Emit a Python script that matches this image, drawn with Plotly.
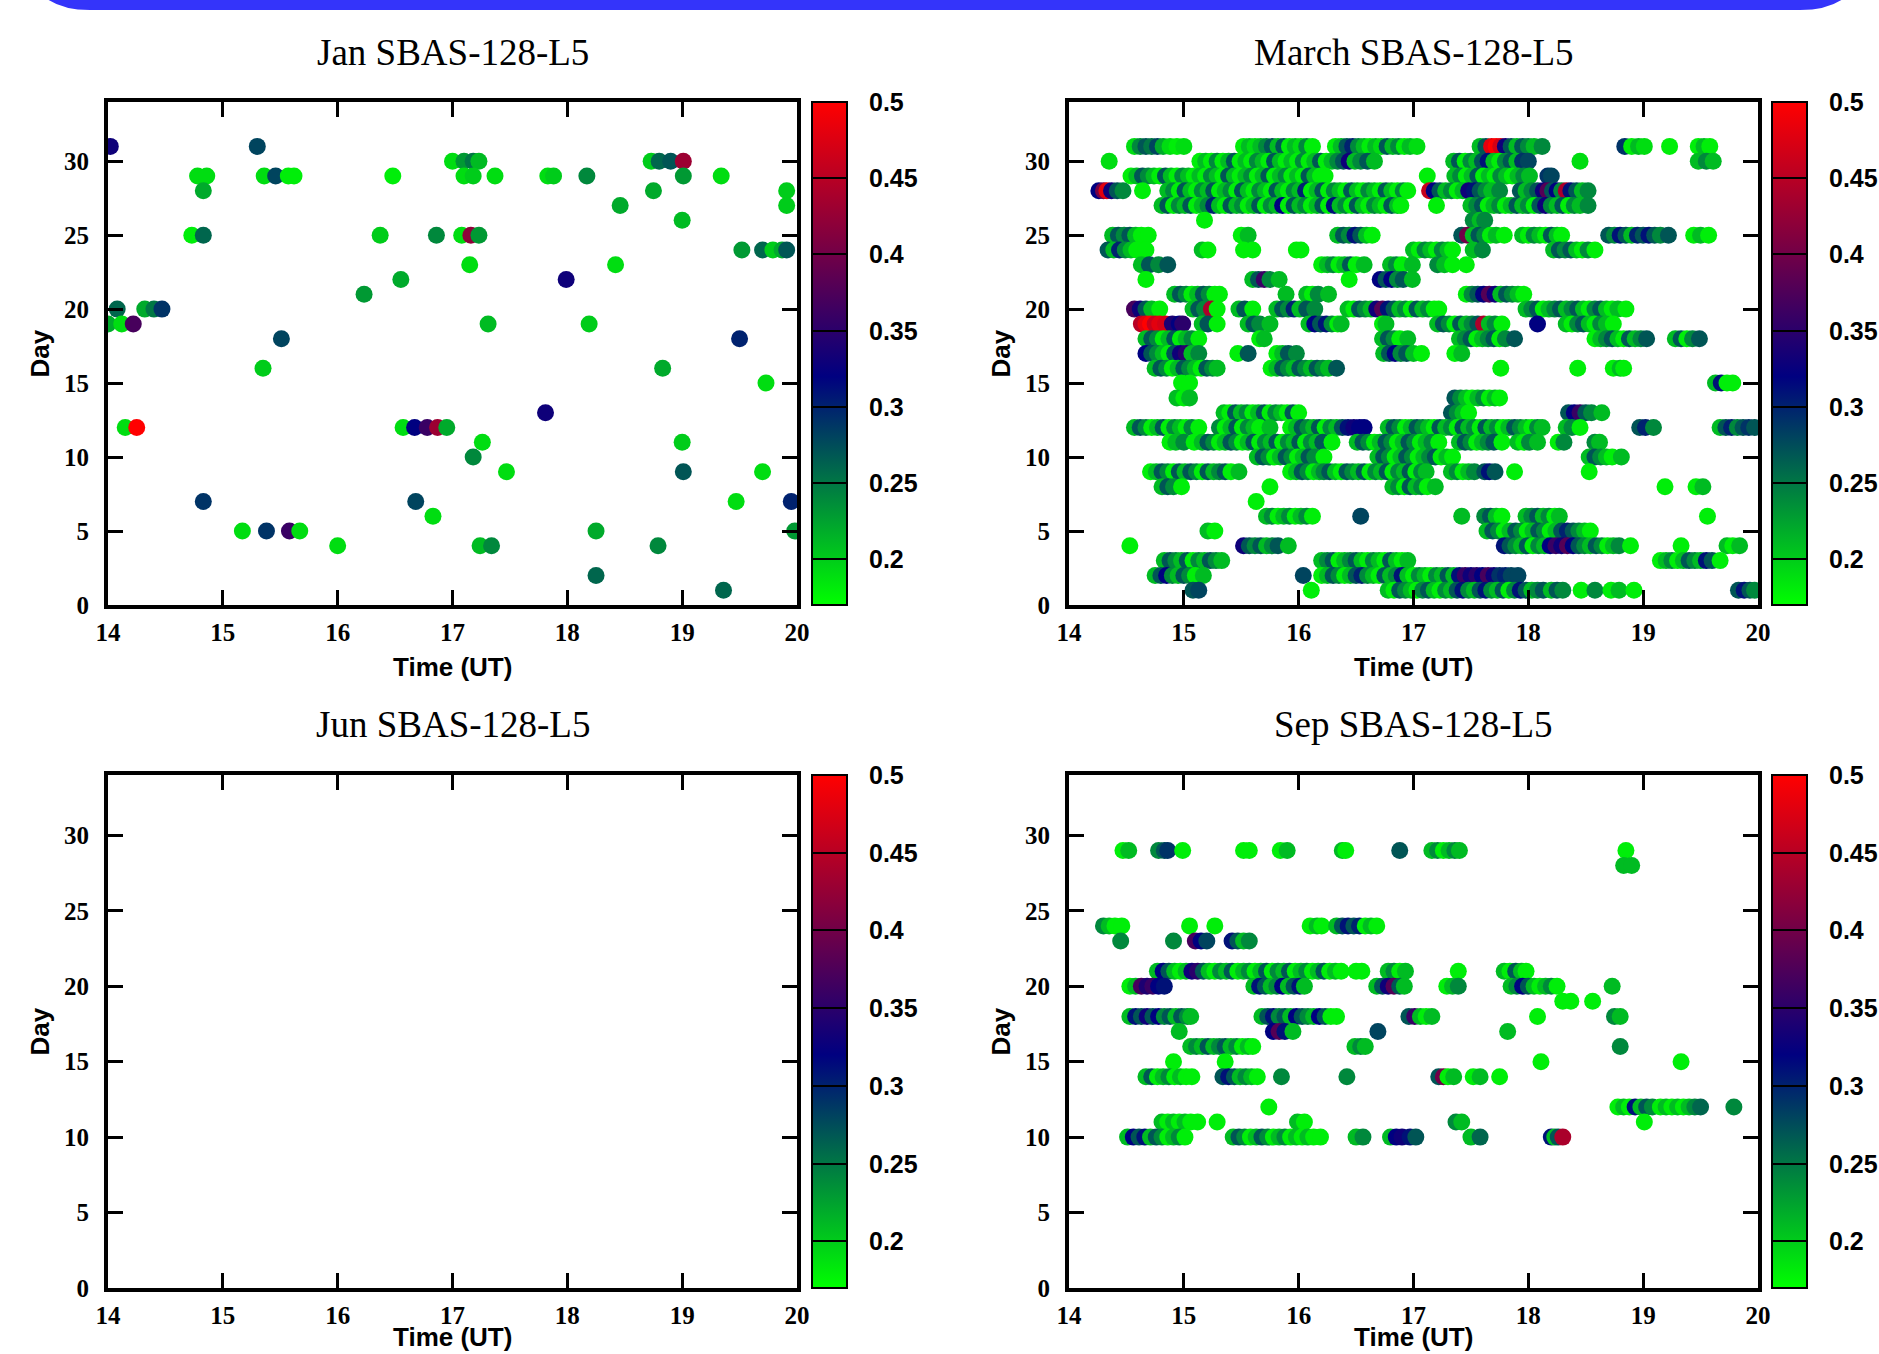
import plotly.graph_objects as go

W, H = 1879, 1354

# ---------------- colour scale (S4 index) ----------------
cb_min, cb_max = 0.17, 0.5
cb_ticks = [0.2, 0.25, 0.3, 0.35, 0.4, 0.45, 0.5]
cb_ticktext = ["0.2", "0.25", "0.3", "0.35", "0.4", "0.45", "0.5"]
x_ticks = [14, 15, 16, 17, 18, 19, 20]
y_ticks = [0, 5, 10, 15, 20, 25, 30]
titles = ["Jan SBAS-128-L5", "March SBAS-128-L5", "Jun SBAS-128-L5", "Sep SBAS-128-L5"]

# ---------------- January: (time UT, S4) per day ----------------
jan_days = [31, 30, 29, 28, 27, 26, 25, 24, 23, 22, 21, 20, 19, 18, 16, 15, 13, 12, 11, 10, 9, 7, 6, 5, 4, 2, 1]
jan_d31 = [(14.02, .33), (15.30, .28)]
jan_d30 = [(17.00, .19), (17.10, .23), (17.18, .25), (17.23, .21), (18.73, .20), (18.80, .26), (18.90, .27), (19.01, .43)]
jan_d29 = [(14.78, .19), (14.86, .19), (15.36, .19), (15.46, .28), (15.57, .18), (15.62, .18), (16.48, .18), (17.10, .19),
           (17.18, .20), (17.37, .19), (17.83, .19), (17.88, .20), (18.17, .24), (19.01, .23), (19.34, .19)]
jan_d28 = [(14.83, .22), (18.75, .22), (19.91, .20)]
jan_d27 = [(18.46, .22), (19.91, .20)]
jan_d26 = [(19.00, .21)]
jan_d25 = [(14.73, .18), (14.83, .26), (16.37, .20), (16.86, .24), (17.08, .19), (17.16, .42), (17.23, .23)]
jan_d24 = [(19.52, .23), (19.70, .26), (19.79, .20), (19.87, .22), (19.91, .27)]
jan_d23 = [(17.15, .19), (18.42, .19)]
jan_d22 = [(16.55, .22), (17.99, .33)]
jan_d21 = [(16.23, .23)]
jan_d20 = [(14.08, .26), (14.32, .22), (14.40, .25), (14.47, .29)]
jan_d19 = [(14.00, .22), (14.12, .19), (14.22, .37), (17.31, .21), (18.19, .20)]
jan_d18 = [(15.51, .28), (19.50, .30)]
jan_d16 = [(15.35, .20), (18.83, .22)]
jan_d15 = [(19.73, .19)]
jan_d13 = [(17.81, .33)]
jan_d12 = [(14.15, .19), (14.25, .50), (16.57, .19), (16.67, .32), (16.78, .36), (16.87, .43), (16.95, .22)]
jan_d11 = [(17.26, .19), (19.00, .20)]
jan_d10 = [(17.18, .24)]
jan_d9 = [(17.47, .19), (19.01, .27), (19.70, .19)]
jan_d7 = [(14.83, .29), (16.68, .28), (19.47, .19), (19.95, .30)]
jan_d6 = [(16.83, .19)]
jan_d5 = [(15.17, .19), (15.38, .29), (15.58, .36), (15.67, .19), (18.25, .22), (19.98, .23)]
jan_d4 = [(16.00, .19), (17.24, .21), (17.34, .24), (18.79, .24)]
jan_d2 = [(18.25, .26)]
jan_d1 = [(19.36, .26)]
jan_rows = [jan_d31, jan_d30, jan_d29, jan_d28, jan_d27, jan_d26, jan_d25, jan_d24, jan_d23, jan_d22, jan_d21,
            jan_d20, jan_d19, jan_d18, jan_d16, jan_d15, jan_d13, jan_d12, jan_d11, jan_d10, jan_d9, jan_d7,
            jan_d6, jan_d5, jan_d4, jan_d2, jan_d1]

# ---------------- March ----------------
mar_days = list(range(31, 0, -1))
mar_d31 = [(14.57, .19), (14.62, .24), (14.67, .27), (14.72, .25), (14.77, .28), (14.82, .22), (14.88, .19), (14.94, .18), (15.00, .19),
           (15.52, .18), (15.57, .21), (15.62, .19), (15.67, .21), (15.72, .24), (15.77, .27), (15.82, .21), (15.87, .27), (15.92, .18),
           (15.97, .21), (16.02, .19), (16.07, .24), (16.12, .18),
           (16.32, .18), (16.37, .21), (16.42, .27), (16.47, .30), (16.52, .24), (16.57, .21), (16.62, .18), (16.67, .21), (16.72, .19),
           (16.77, .27), (16.82, .21), (16.87, .24), (16.92, .18), (16.97, .21), (17.03, .19),
           (17.58, .21), (17.63, .27), (17.68, .48), (17.72, .50), (17.76, .47), (17.80, .33), (17.85, .27), (17.90, .21), (17.95, .27),
           (18.00, .24), (18.05, .21), (18.12, .24),
           (18.84, .29), (18.90, .18), (18.96, .21), (19.01, .19), (19.23, .18), (19.48, .18), (19.53, .21), (19.58, .18)]
mar_d30 = [(14.35, .19),
           (15.14, .18), (15.19, .21), (15.24, .18), (15.29, .24), (15.34, .18), (15.39, .21), (15.44, .27), (15.49, .18), (15.54, .21),
           (15.59, .18), (15.64, .24), (15.69, .21), (15.74, .18), (15.79, .27), (15.84, .21), (15.89, .18), (15.94, .21), (15.99, .18),
           (16.04, .24), (16.09, .18), (16.14, .21), (16.19, .27), (16.24, .18), (16.29, .21), (16.34, .24), (16.39, .27), (16.44, .33),
           (16.49, .21), (16.54, .24), (16.60, .27), (16.66, .21),
           (17.35, .21), (17.40, .27), (17.45, .18), (17.50, .24), (17.55, .21), (17.60, .27), (17.65, .31), (17.70, .21), (17.75, .18),
           (17.80, .24), (17.85, .27), (17.90, .21), (17.95, .29), (18.00, .28),
           (18.45, .19), (19.48, .21), (19.55, .24), (19.61, .21)]
mar_d29 = [(14.54, .18), (14.59, .21), (14.64, .27), (14.69, .24), (14.74, .21), (14.79, .18), (14.84, .27), (14.89, .21), (14.94, .18),
           (14.99, .24), (15.04, .21), (15.09, .18), (15.14, .21), (15.19, .18), (15.24, .24), (15.29, .21), (15.34, .18), (15.39, .27),
           (15.44, .21), (15.49, .18), (15.54, .21), (15.59, .24), (15.64, .18), (15.69, .21), (15.74, .27), (15.79, .18), (15.84, .21),
           (15.89, .24), (15.94, .18), (15.99, .21), (16.04, .18), (16.09, .27), (16.14, .21), (16.19, .18), (16.23, .18),
           (17.12, .18),
           (17.36, .21), (17.41, .24), (17.46, .18), (17.51, .21), (17.56, .27), (17.61, .18), (17.66, .21), (17.71, .18), (17.76, .24),
           (17.81, .21), (17.86, .18), (17.91, .21), (17.96, .24), (18.01, .21), (18.17, .29), (18.20, .28)]
mar_d28 = [(14.26, .32), (14.30, .40), (14.33, .48), (14.37, .33), (14.42, .27), (14.47, .24), (14.64, .18),
           (14.86, .21), (14.91, .24), (14.96, .18), (15.01, .27), (15.06, .21), (15.11, .18), (15.16, .24), (15.21, .21), (15.26, .27),
           (15.31, .18), (15.36, .21), (15.41, .24), (15.46, .18), (15.51, .27), (15.56, .21), (15.61, .18), (15.66, .24), (15.71, .21),
           (15.76, .18), (15.81, .27), (15.86, .21), (15.91, .18), (15.96, .24), (16.01, .21), (16.06, .30), (16.11, .18), (16.16, .21),
           (16.21, .27), (16.26, .18), (16.31, .24), (16.36, .21), (16.41, .18), (16.46, .27), (16.51, .21), (16.56, .18), (16.61, .24),
           (16.66, .21), (16.71, .18), (16.76, .27), (16.81, .21), (16.86, .18), (16.91, .24), (16.95, .18),
           (17.14, .46), (17.18, .32), (17.23, .27), (17.28, .21), (17.33, .24), (17.38, .18), (17.43, .21), (17.48, .33), (17.53, .31),
           (17.58, .27), (17.63, .24), (17.68, .21), (17.75, .24),
           (17.93, .27), (17.98, .21), (18.03, .24), (18.08, .27), (18.13, .33), (18.17, .38), (18.21, .27), (18.25, .32), (18.29, .24),
           (18.33, .44), (18.37, .31), (18.42, .27), (18.47, .21), (18.52, .24)]
mar_d27 = [(14.81, .21), (14.86, .27), (14.91, .18), (14.96, .24), (15.01, .21), (15.06, .27), (15.11, .18), (15.16, .21), (15.21, .24),
           (15.26, .30), (15.31, .21), (15.36, .18), (15.41, .27), (15.46, .21), (15.51, .24), (15.56, .18), (15.61, .21), (15.66, .27),
           (15.71, .18), (15.76, .24), (15.81, .21), (15.86, .32), (15.91, .18), (15.96, .27), (16.01, .21), (16.06, .24), (16.11, .18),
           (16.16, .21), (16.21, .27), (16.26, .18), (16.31, .31), (16.36, .21), (16.41, .24), (16.46, .18), (16.51, .27), (16.56, .21),
           (16.61, .18), (16.66, .24), (16.71, .21), (16.76, .18), (16.81, .27), (16.86, .21), (16.89, .18),
           (17.20, .18),
           (17.50, .21), (17.55, .24), (17.60, .27), (17.65, .18), (17.70, .21), (17.75, .24), (17.80, .18), (17.85, .21), (17.90, .27),
           (17.95, .21), (18.00, .24), (18.05, .18), (18.10, .27), (18.15, .33), (18.20, .24), (18.25, .21), (18.30, .27), (18.35, .18),
           (18.40, .24), (18.45, .21), (18.52, .24)]
mar_d26 = [(15.18, .18), (17.52, .24), (17.58, .21), (17.62, .24)]
mar_d25 = [(14.38, .21), (14.43, .27), (14.48, .24), (14.53, .27), (14.58, .21), (14.63, .18), (14.69, .18),
           (15.50, .18), (15.56, .21),
           (16.34, .21), (16.39, .27), (16.44, .24), (16.49, .31), (16.54, .27), (16.59, .21), (16.64, .18),
           (17.42, .27), (17.47, .40), (17.52, .21), (17.57, .27), (17.62, .24), (17.67, .18), (17.72, .21), (17.79, .18),
           (17.95, .21), (18.00, .18), (18.05, .24), (18.10, .21), (18.15, .18), (18.20, .27), (18.25, .21), (18.29, .18),
           (18.70, .27), (18.75, .24), (18.80, .31), (18.85, .27), (18.90, .21), (18.95, .30), (19.00, .27), (19.05, .31), (19.10, .27),
           (19.15, .24), (19.22, .27), (19.44, .18), (19.50, .21), (19.57, .18)]
mar_d24 = [(14.34, .27), (14.39, .21), (14.44, .30), (14.49, .24), (14.54, .21), (14.59, .18), (14.67, .18),
           (15.16, .21), (15.21, .18), (15.52, .18), (15.60, .18), (15.98, .18), (16.02, .18),
           (17.00, .21), (17.05, .18), (17.10, .24), (17.15, .21), (17.20, .18), (17.25, .24), (17.30, .21), (17.34, .18),
           (17.52, .21), (17.60, .24),
           (18.22, .21), (18.27, .27), (18.32, .24), (18.37, .27), (18.42, .21), (18.47, .18), (18.52, .24), (18.58, .18)]
mar_d23 = [(14.63, .21), (14.70, .27), (14.78, .24), (14.86, .27),
           (16.20, .18), (16.25, .21), (16.30, .24), (16.35, .18), (16.40, .21), (16.45, .27), (16.50, .18), (16.57, .21),
           (16.80, .21), (16.85, .24), (16.90, .18), (16.99, .21), (17.21, .24), (17.27, .21), (17.34, .18), (17.46, .18)]
mar_d22 = [(14.67, .18), (15.60, .21), (15.65, .27), (15.70, .36), (15.75, .24), (15.83, .21), (16.44, .18),
           (16.71, .32), (16.76, .27), (16.81, .32), (16.86, .24), (16.91, .27), (16.99, .21)]
mar_d21 = [(14.92, .21), (14.97, .27), (15.02, .24), (15.07, .18), (15.12, .21), (15.17, .27), (15.22, .24), (15.27, .18), (15.31, .18),
           (15.89, .21), (16.07, .21), (16.12, .18), (16.17, .24), (16.26, .21),
           (17.46, .18), (17.51, .24), (17.56, .27), (17.61, .32), (17.66, .38), (17.71, .33), (17.76, .21), (17.81, .27), (17.86, .24),
           (17.91, .21), (17.96, .18)]
mar_d20 = [(14.57, .37), (14.62, .33), (14.67, .27), (14.72, .21), (14.79, .18),
           (15.08, .21), (15.13, .27), (15.18, .24), (15.24, .44), (15.29, .18), (15.48, .21), (15.53, .27), (15.60, .18),
           (15.81, .21), (15.86, .27), (15.91, .24), (15.96, .30), (16.01, .21), (16.07, .27), (16.14, .24),
           (16.43, .21), (16.48, .18), (16.53, .27), (16.58, .24), (16.63, .21), (16.68, .33), (16.73, .38), (16.78, .31), (16.83, .27),
           (16.88, .21), (16.93, .24), (16.98, .18), (17.03, .27), (17.08, .21), (17.13, .24), (17.18, .18), (17.22, .18),
           (17.98, .21), (18.03, .24), (18.08, .27), (18.13, .18), (18.18, .21), (18.23, .24), (18.28, .27), (18.33, .21), (18.38, .24),
           (18.43, .27), (18.48, .21), (18.53, .18), (18.58, .24), (18.63, .27), (18.68, .21), (18.73, .18), (18.78, .21), (18.85, .18)]
mar_d19 = [(14.63, .45), (14.67, .48), (14.71, .50), (14.75, .46), (14.79, .48), (14.84, .47), (14.90, .34), (14.96, .32), (14.99, .35),
           (15.16, .21), (15.21, .27), (15.29, .18), (15.56, .21), (15.61, .27), (15.66, .24), (15.75, .21),
           (16.09, .21), (16.14, .32), (16.19, .27), (16.24, .31), (16.29, .24), (16.34, .18), (16.37, .21), (16.73, .18), (16.76, .21),
           (17.21, .21), (17.26, .27), (17.31, .24), (17.36, .18), (17.41, .27), (17.46, .21), (17.51, .24), (17.56, .27), (17.61, .44),
           (17.66, .21), (17.71, .24), (17.77, .18), (18.08, .32),
           (18.33, .21), (18.38, .18), (18.43, .24), (18.48, .27), (18.53, .21), (18.58, .18), (18.63, .24), (18.68, .21), (18.74, .18)]
mar_d18 = [(14.67, .21), (14.72, .27), (14.77, .24), (14.82, .18), (14.87, .21), (14.92, .27), (14.97, .18), (15.02, .21), (15.07, .24),
           (15.13, .18), (15.66, .18), (15.70, .21),
           (16.73, .21), (16.78, .27), (16.83, .24), (16.88, .18), (16.95, .21),
           (17.40, .21), (17.45, .24), (17.50, .27), (17.55, .18), (17.60, .21), (17.65, .24), (17.70, .27), (17.75, .18), (17.80, .24),
           (17.88, .27),
           (18.58, .18), (18.63, .21), (18.68, .24), (18.73, .27), (18.78, .21), (18.83, .18), (18.88, .27), (18.93, .21), (18.98, .24),
           (19.03, .27), (19.28, .21), (19.33, .27), (19.38, .18), (19.43, .24), (19.49, .27)]
mar_d17 = [(14.67, .32), (14.72, .27), (14.77, .24), (14.82, .21), (14.87, .18), (14.92, .27), (14.97, .33), (15.02, .35), (15.07, .21),
           (15.13, .24), (15.47, .18), (15.56, .27), (15.81, .18), (15.86, .21), (15.91, .27), (15.98, .24),
           (16.74, .21), (16.79, .27), (16.84, .32), (16.89, .24), (16.94, .27), (17.00, .21), (17.07, .18), (17.36, .18), (17.42, .21)]
mar_d16 = [(14.75, .21), (14.80, .27), (14.85, .24), (14.90, .18), (14.95, .21), (15.00, .27), (15.05, .24), (15.10, .21), (15.15, .18),
           (15.20, .27), (15.25, .24), (15.29, .21),
           (15.76, .18), (15.81, .21), (15.86, .27), (15.91, .24), (15.96, .21), (16.01, .27), (16.06, .24), (16.11, .21), (16.16, .27),
           (16.21, .24), (16.26, .21), (16.33, .27), (17.76, .18), (18.43, .18), (18.74, .18), (18.80, .21), (18.83, .18)]
mar_d15 = [(14.98, .18), (15.05, .18), (19.63, .21), (19.68, .31), (19.73, .18), (19.78, .18)]
mar_d14 = [(14.94, .21), (15.00, .18), (15.05, .21),
           (17.36, .27), (17.41, .24), (17.46, .21), (17.51, .18), (17.56, .21), (17.61, .24), (17.66, .18), (17.71, .21), (17.75, .18)]
mar_d13 = [(15.35, .21), (15.40, .18), (15.45, .27), (15.50, .21), (15.55, .24), (15.60, .18), (15.65, .21), (15.70, .27), (15.75, .18),
           (15.80, .24), (15.85, .21), (15.90, .18), (15.95, .27), (16.00, .18),
           (17.33, .27), (17.38, .24), (17.43, .21), (17.48, .18),
           (18.35, .27), (18.40, .32), (18.45, .36), (18.50, .27), (18.55, .24), (18.64, .21)]
mar_d12 = [(14.57, .21), (14.62, .27), (14.67, .24), (14.72, .18), (14.77, .21), (14.82, .27), (14.87, .18), (14.92, .24), (14.97, .21),
           (15.02, .18), (15.07, .24), (15.13, .18),
           (15.31, .24), (15.36, .18), (15.41, .21), (15.46, .27), (15.51, .18), (15.56, .24), (15.61, .21), (15.66, .18), (15.75, .21),
           (15.93, .18), (15.98, .21), (16.03, .27), (16.08, .24), (16.13, .21), (16.18, .27), (16.23, .18), (16.28, .24), (16.33, .21),
           (16.38, .27), (16.43, .31), (16.48, .33), (16.53, .32), (16.57, .32),
           (16.78, .21), (16.83, .27), (16.88, .24), (16.93, .18), (16.98, .21), (17.03, .27), (17.08, .24), (17.13, .21), (17.18, .18),
           (17.23, .27), (17.28, .21), (17.33, .24), (17.38, .18), (17.43, .27), (17.48, .21), (17.53, .24), (17.58, .18), (17.63, .27),
           (17.68, .21), (17.73, .24), (17.78, .18), (17.83, .21), (17.88, .27), (17.93, .24), (17.98, .21), (18.03, .18), (18.08, .24),
           (18.12, .21), (18.33, .21), (18.38, .24), (18.45, .18), (18.97, .27), (19.02, .30), (19.09, .24),
           (19.67, .21), (19.72, .27), (19.77, .30), (19.82, .24), (19.87, .27), (19.92, .29), (19.97, .27)]
mar_d11 = [(14.88, .18), (14.93, .21), (15.00, .24), (15.09, .18),
           (15.16, .21), (15.21, .27), (15.26, .24), (15.31, .18), (15.36, .21), (15.41, .27), (15.46, .24), (15.51, .18), (15.56, .21),
           (15.61, .27), (15.66, .18), (15.71, .24), (15.76, .21), (15.81, .27), (15.86, .18), (15.91, .24), (15.96, .21), (16.01, .27),
           (16.06, .18), (16.11, .24), (16.16, .21), (16.21, .27), (16.29, .18),
           (16.51, .21), (16.56, .27), (16.61, .24), (16.66, .18), (16.71, .21), (16.76, .27), (16.81, .24), (16.86, .18), (16.91, .21),
           (16.96, .27), (17.01, .24), (17.06, .18), (17.11, .21), (17.16, .24), (17.22, .18),
           (17.40, .21), (17.45, .27), (17.50, .24), (17.55, .18), (17.60, .21), (17.65, .24), (17.70, .27), (17.77, .18),
           (17.91, .21), (17.96, .18), (18.01, .24), (18.08, .21), (18.26, .18), (18.31, .24), (18.58, .24), (18.62, .21)]
mar_d10 = [(15.64, .21), (15.69, .27), (15.74, .24), (15.79, .18), (15.84, .21), (15.89, .27), (15.94, .24), (15.99, .18), (16.04, .21),
           (16.09, .27), (16.14, .24), (16.22, .18),
           (16.69, .21), (16.74, .27), (16.79, .24), (16.84, .18), (16.89, .21), (16.94, .27), (16.99, .24), (17.04, .18), (17.09, .21),
           (17.14, .24), (17.19, .27), (17.24, .18), (17.29, .21), (17.34, .18),
           (18.53, .21), (18.58, .27), (18.63, .24), (18.68, .21), (18.73, .18), (18.81, .21)]
mar_d9 = [(14.71, .18), (14.76, .21), (14.81, .27), (14.86, .24), (14.91, .18), (14.96, .27), (15.01, .21), (15.06, .27), (15.11, .24),
          (15.16, .18), (15.21, .27), (15.26, .21), (15.31, .24), (15.36, .27), (15.41, .18), (15.48, .21),
          (15.93, .18), (15.98, .21), (16.03, .27), (16.08, .24), (16.13, .18), (16.18, .21),
          (16.22, .24), (16.27, .27), (16.32, .21), (16.37, .18), (16.42, .27), (16.47, .24), (16.52, .21), (16.57, .27), (16.62, .18),
          (16.67, .24), (16.72, .21), (16.77, .27), (16.82, .18), (16.87, .24), (16.92, .21), (16.97, .27), (17.02, .18), (17.07, .24),
          (17.11, .21), (17.33, .21), (17.38, .24), (17.43, .18), (17.48, .21), (17.53, .24), (17.62, .27), (17.66, .31), (17.71, .27),
          (17.88, .18), (18.53, .18)]
mar_d8 = [(14.81, .21), (14.86, .27), (14.91, .24), (14.98, .18), (15.75, .18),
          (16.82, .21), (16.87, .24), (16.92, .18), (16.97, .27), (17.02, .21), (17.07, .24), (17.12, .18), (17.19, .21),
          (19.19, .18), (19.46, .18), (19.52, .21)]
mar_d7 = [(15.63, .18)]
mar_d6 = [(15.72, .21), (15.77, .24), (15.82, .18), (15.87, .21), (15.92, .24), (15.97, .18), (16.02, .21), (16.07, .24), (16.12, .18),
          (16.54, .28), (17.42, .21),
          (17.62, .24), (17.67, .27), (17.72, .21), (17.77, .18),
          (17.98, .21), (18.03, .24), (18.08, .27), (18.13, .21), (18.18, .24), (18.23, .18), (18.27, .21), (19.56, .18)]
mar_d5 = [(15.21, .21), (15.27, .18),
          (17.64, .21), (17.69, .27), (17.74, .24), (17.79, .18), (17.84, .21), (17.89, .27), (17.94, .24), (17.99, .18), (18.04, .21),
          (18.09, .27), (18.14, .24), (18.19, .18), (18.24, .21), (18.29, .27), (18.34, .30), (18.39, .27), (18.44, .24), (18.49, .21),
          (18.54, .18)]
mar_d4 = [(14.53, .18),
          (15.52, .33), (15.57, .27), (15.62, .24), (15.67, .27), (15.72, .21), (15.77, .24), (15.82, .27), (15.91, .21),
          (17.79, .31), (17.84, .27), (17.89, .24), (17.94, .21), (17.99, .27), (18.04, .18), (18.09, .24), (18.14, .21), (18.19, .32),
          (18.24, .36), (18.29, .33), (18.34, .38), (18.39, .32), (18.44, .27), (18.49, .24), (18.54, .21), (18.59, .27), (18.64, .24),
          (18.69, .18), (18.74, .21), (18.79, .24), (18.89, .18),
          (19.33, .18), (19.73, .21), (19.78, .18), (19.84, .21)]
mar_d3 = [(14.83, .21), (14.88, .27), (14.93, .24), (14.98, .21), (15.03, .27), (15.08, .18), (15.13, .24), (15.18, .21), (15.23, .27),
          (15.28, .24), (15.33, .21),
          (16.20, .21), (16.25, .24), (16.30, .27), (16.35, .18), (16.40, .21), (16.45, .24), (16.50, .27), (16.55, .21), (16.60, .18),
          (16.65, .24), (16.70, .21), (16.75, .18), (16.80, .27), (16.85, .21), (16.90, .18), (16.95, .21),
          (19.15, .18), (19.20, .21), (19.25, .24), (19.30, .18), (19.35, .21), (19.40, .27), (19.45, .24), (19.50, .21), (19.55, .31),
          (19.60, .27), (19.67, .18)]
mar_d2 = [(14.75, .21), (14.80, .27), (14.85, .32), (14.90, .24), (14.95, .21), (15.00, .27), (15.05, .24), (15.10, .18), (15.17, .21),
          (16.04, .28),
          (16.20, .18), (16.25, .21), (16.30, .27), (16.35, .24), (16.40, .18), (16.45, .21), (16.50, .27), (16.55, .30), (16.60, .24),
          (16.65, .21), (16.70, .18), (16.75, .27), (16.80, .21), (16.85, .24), (16.90, .31), (16.95, .21), (17.00, .18), (17.05, .24),
          (17.10, .21), (17.15, .18), (17.20, .24), (17.25, .21), (17.30, .27), (17.35, .21), (17.40, .31), (17.45, .36), (17.50, .33),
          (17.55, .35), (17.60, .32), (17.65, .37), (17.70, .33), (17.75, .29), (17.80, .30), (17.85, .28), (17.91, .28)]
mar_d1 = [(15.08, .27), (15.13, .28), (16.11, .18),
          (16.78, .21), (16.83, .18), (16.88, .27), (16.93, .24), (16.98, .21), (17.03, .18), (17.08, .24), (17.13, .27), (17.18, .21),
          (17.23, .18), (17.28, .24), (17.33, .21), (17.38, .27), (17.43, .31), (17.48, .24), (17.53, .21), (17.58, .27), (17.63, .31),
          (17.68, .24), (17.73, .21), (17.78, .27), (17.83, .18), (17.88, .24), (17.93, .31), (17.98, .27), (18.03, .21), (18.08, .24),
          (18.13, .27), (18.20, .21), (18.25, .27), (18.30, .24),
          (18.46, .18), (18.58, .24), (18.72, .18), (18.79, .21), (18.92, .18),
          (19.83, .27), (19.88, .31), (19.93, .27), (19.97, .24)]
mar_rows = [mar_d31, mar_d30, mar_d29, mar_d28, mar_d27, mar_d26, mar_d25, mar_d24, mar_d23, mar_d22, mar_d21,
            mar_d20, mar_d19, mar_d18, mar_d17, mar_d16, mar_d15, mar_d14, mar_d13, mar_d12, mar_d11, mar_d10,
            mar_d9, mar_d8, mar_d7, mar_d6, mar_d5, mar_d4, mar_d3, mar_d2, mar_d1]

# ---------------- June: no data ----------------
jun_time = []
jun_day = []
jun_s4 = []

# ---------------- September ----------------
sep_days = [29, 28, 24, 23, 21, 20, 19, 18, 17, 16, 15, 14, 12, 11, 10]
sep_d29 = [(14.47, .18), (14.52, .21), (14.78, .24), (14.83, .27), (14.86, .29), (14.99, .18), (15.52, .18), (15.57, .18),
           (15.84, .18), (15.90, .21), (16.38, .21), (16.41, .18), (16.88, .27),
           (17.16, .21), (17.21, .24), (17.26, .18), (17.31, .21), (17.36, .24), (17.40, .21), (18.85, .18)]
sep_d28 = [(18.83, .21), (18.90, .21)]
sep_d24 = [(14.30, .24), (14.35, .21), (14.40, .18), (14.46, .18), (15.05, .18), (15.27, .18), (16.10, .18), (16.16, .21), (16.20, .18),
           (16.33, .21), (16.38, .27), (16.43, .31), (16.48, .27), (16.53, .30), (16.58, .18), (16.63, .21), (16.68, .18)]
sep_d23 = [(14.45, .24), (14.91, .24), (15.10, .37), (15.15, .32), (15.20, .28), (15.42, .31), (15.47, .27), (15.52, .21), (15.57, .24)]
sep_d21 = [(14.77, .21), (14.82, .32), (14.87, .27), (14.92, .21), (14.97, .18), (15.02, .21), (15.07, .33), (15.12, .35), (15.17, .27),
           (15.22, .21), (15.27, .18), (15.32, .24), (15.37, .21), (15.42, .27), (15.47, .18), (15.52, .21), (15.57, .24), (15.62, .18),
           (15.67, .21), (15.72, .27), (15.77, .18), (15.82, .24), (15.87, .21), (15.92, .27), (15.97, .18), (16.02, .21), (16.07, .24),
           (16.12, .18), (16.17, .21), (16.22, .27), (16.27, .18), (16.32, .21), (16.37, .18), (16.50, .18), (16.55, .18),
           (16.78, .21), (16.83, .24), (16.88, .18), (16.93, .21), (17.39, .18),
           (17.79, .21), (17.84, .18), (17.89, .27), (17.94, .21), (17.98, .18)]
sep_d20 = [(14.53, .18), (14.58, .21), (14.63, .37), (14.68, .34), (14.73, .36), (14.78, .32), (14.83, .31),
           (15.61, .21), (15.66, .31), (15.71, .27), (15.76, .21), (15.81, .24), (15.86, .32), (15.91, .21), (15.96, .27), (16.01, .31),
           (16.05, .21), (16.68, .21), (16.73, .27), (16.78, .33), (16.83, .38), (16.88, .27), (16.92, .21),
           (17.29, .18), (17.34, .21), (17.39, .24),
           (17.85, .21), (17.90, .24), (17.95, .32), (18.00, .27), (18.05, .21), (18.10, .18), (18.15, .21), (18.20, .24), (18.25, .18),
           (18.73, .21)]
sep_d19 = [(18.30, .18), (18.37, .18), (18.56, .18)]
sep_d18 = [(14.53, .21), (14.58, .31), (14.63, .27), (14.68, .33), (14.73, .27), (14.78, .32), (14.83, .24), (14.88, .27), (14.93, .21),
           (14.98, .27), (15.03, .24), (15.06, .21),
           (15.68, .21), (15.73, .27), (15.78, .31), (15.83, .24), (15.88, .27), (15.93, .21), (15.98, .32), (16.03, .27), (16.08, .24),
           (16.13, .21), (16.18, .32), (16.23, .27), (16.28, .18), (16.33, .18),
           (16.96, .27), (17.01, .36), (17.06, .21), (17.11, .18), (17.16, .21), (18.08, .18), (18.75, .24), (18.80, .21)]
sep_d17 = [(14.96, .21), (15.78, .32), (15.83, .38), (15.88, .31), (15.95, .21), (16.69, .28), (17.82, .21)]
sep_d16 = [(15.06, .21), (15.11, .24), (15.16, .21), (15.21, .27), (15.26, .21), (15.31, .24), (15.36, .27), (15.41, .21), (15.46, .24),
           (15.51, .18), (15.56, .21), (15.60, .18), (16.49, .21), (16.54, .24), (16.58, .21), (18.80, .24)]
sep_d15 = [(14.91, .18), (15.36, .18), (18.11, .18), (19.33, .18)]
sep_d14 = [(14.67, .21), (14.72, .27), (14.77, .18), (14.82, .21), (14.87, .24), (14.92, .18), (14.97, .21), (15.02, .18), (15.07, .18),
           (15.34, .27), (15.39, .31), (15.44, .27), (15.49, .21), (15.54, .24), (15.59, .21), (15.64, .18), (15.85, .24), (16.42, .24),
           (17.22, .27), (17.26, .40), (17.30, .18), (17.35, .21), (17.52, .18), (17.58, .21), (17.75, .18)]
sep_d12 = [(15.74, .18), (18.78, .18), (18.83, .21), (18.88, .18), (18.93, .31), (18.98, .21), (19.03, .27), (19.08, .24), (19.15, .18),
           (19.20, .21), (19.25, .18), (19.30, .21), (19.35, .18), (19.40, .21), (19.45, .24), (19.50, .26), (19.79, .24)]
sep_d11 = [(14.81, .21), (14.86, .18), (14.91, .21), (14.96, .18), (15.01, .21), (15.06, .18), (15.12, .18), (15.29, .18),
           (15.99, .21), (16.05, .18), (17.37, .24), (17.42, .21), (19.01, .18)]
sep_d10 = [(14.51, .21), (14.56, .32), (14.61, .27), (14.66, .31), (14.71, .21), (14.76, .27), (14.81, .24), (14.86, .18), (14.91, .21),
           (14.96, .24), (15.01, .18),
           (15.43, .21), (15.48, .27), (15.53, .24), (15.58, .18), (15.63, .21), (15.68, .27), (15.73, .24), (15.78, .18), (15.83, .21),
           (15.88, .24), (15.93, .18), (15.98, .21), (16.03, .18), (16.08, .21), (16.13, .18), (16.19, .18), (16.50, .21), (16.56, .24),
           (16.80, .21), (16.85, .32), (16.90, .33), (16.97, .31), (17.02, .27), (17.50, .21), (17.58, .26),
           (18.20, .31), (18.23, .21), (18.26, .27), (18.30, .44)]
sep_rows = [sep_d29, sep_d28, sep_d24, sep_d23, sep_d21, sep_d20, sep_d19, sep_d18, sep_d17, sep_d16, sep_d15, sep_d14,
            sep_d12, sep_d11, sep_d10]


def flatten(days, rows):
    t, d, s = [], [], []
    for day, row in zip(days, rows):
        for time, s4 in row:
            t.append(time)
            d.append(day)
            s.append(s4)
    return t, d, s


jan_time, jan_day, jan_s4 = flatten(jan_days, jan_rows)
mar_time, mar_day, mar_s4 = flatten(mar_days, mar_rows)
sep_time, sep_day, sep_s4 = flatten(sep_days, sep_rows)

# ---------------- layout geometry (pixels -> paper) ----------------
def px(x):
    return x / W


def py(y):
    return 1 - y / H


panels = [
    dict(x0=108, x1=797, y0=102, y1=605, cbx=812, title_y=52, xt_y=667),
    dict(x0=1069, x1=1758, y0=102, y1=605, cbx=1772, title_y=52, xt_y=667),
    dict(x0=108, x1=797, y0=775, y1=1288, cbx=812, title_y=724, xt_y=1337),
    dict(x0=1069, x1=1758, y0=775, y1=1288, cbx=1772, title_y=724, xt_y=1337),
]
data = [(jan_time, jan_day, jan_s4), (mar_time, mar_day, mar_s4), (jun_time, jun_day, jun_s4), (sep_time, sep_day, sep_s4)]

colorscale = [[0.0, "#00ff00"], [(0.32 - cb_min) / (cb_max - cb_min), "#000080"], [1.0, "#ff0000"]]

fig = go.Figure()
layout = dict(
    width=W, height=H, margin=dict(l=0, r=0, t=0, b=0, autoexpand=False),
    paper_bgcolor="white", plot_bgcolor="white", showlegend=False,
    annotations=[], shapes=[],
)

tick_font = dict(family="Liberation Serif", size=25, color="black", weight="bold")
sans_bold = dict(family="Liberation Sans", size=26, color="black", weight="bold")
cb_font = dict(family="Liberation Sans", size=25, color="black", weight="bold")

for i, (p, (t, d, s)) in enumerate(zip(panels, data)):
    n = "" if i == 0 else str(i + 1)
    ca = "coloraxis" + n
    # an empty month keeps an undrawn placeholder (no coordinates) so its colour bar still shows
    tx, dy, sc = (t, d, s) if len(t) else ([None], [None], [cb_min])
    fig.add_trace(go.Scatter(
        x=tx, y=dy, mode="markers", xaxis="x" + n, yaxis="y" + n,
        marker=dict(size=17, color=sc, coloraxis=ca, line=dict(width=0)),
        hoverinfo="skip",
    ))
    axis_common = dict(showline=True, linewidth=4, linecolor="black", mirror="ticks", ticks="inside",
                       ticklen=15, tickwidth=3, tickcolor="black", showgrid=False, zeroline=False,
                       tickfont=tick_font, automargin=False)
    layout["xaxis" + n] = dict(axis_common, domain=[px(p["x0"]), px(p["x1"])], range=[14, 20],
                                tickvals=x_ticks, anchor="y" + n, ticklabelstandoff=2)
    layout["yaxis" + n] = dict(axis_common, domain=[py(p["y1"]), py(p["y0"])], range=[0, 34],
                                tickvals=y_ticks, anchor="x" + n, ticklabelstandoff=10)
    layout[ca] = dict(
        cmin=cb_min, cmax=cb_max, colorscale=colorscale,
        colorbar=dict(
            x=px(p["cbx"]), xanchor="left", xpad=0, ypad=0,
            y=py((p["y0"] + p["y1"]) / 2), yanchor="middle",
            lenmode="pixels", len=p["y1"] - p["y0"], thickness=35,
            outlinewidth=2, outlinecolor="black",
            tickvals=cb_ticks, showticklabels=False,
            ticks="inside", ticklen=35, tickwidth=2, tickcolor="black",
        ),
    )
    # colour-bar labels, placed beside the bar at each tick value
    for v, label in zip(cb_ticks, cb_ticktext):
        yv = p["y1"] - (v - cb_min) / (cb_max - cb_min) * (p["y1"] - p["y0"])
        layout["annotations"].append(dict(
            text=label, x=px(p["cbx"] + 35 + 20), y=py(yv), xref="paper", yref="paper", showarrow=False,
            xanchor="left", yanchor="middle", font=cb_font))
    cx = (p["x0"] + p["x1"]) / 2
    layout["annotations"] += [
        dict(text=titles[i], x=px(cx), y=py(p["title_y"]), xref="paper", yref="paper", showarrow=False,
             xanchor="center", yanchor="middle", font=dict(family="Liberation Serif", size=37, color="black")),
        dict(text="Time (UT)", x=px(cx), y=py(p["xt_y"]), xref="paper", yref="paper", showarrow=False,
             xanchor="center", yanchor="middle", font=sans_bold),
        dict(text="Day", x=px(p["x0"] - 69), y=py((p["y0"] + p["y1"]) / 2), xref="paper", yref="paper",
             showarrow=False, textangle=-90, xanchor="center", yanchor="middle", font=sans_bold),
    ]

# blue banner at the top (rounded bottom corners)
def P(x, y):
    return f"{px(x):.5f},{py(y):.5f}"


banner = (f"M {P(24, -120)} L {P(24, -56)} Q {P(24, 10)} {P(90, 10)} L {P(1800, 10)} "
          f"Q {P(1866, 10)} {P(1866, -56)} L {P(1866, -120)} Z")
layout["shapes"].append(dict(type="path", path=banner, xref="paper", yref="paper",
                             fillcolor="#3434fa", line=dict(width=0), layer="above"))

fig.update_layout(**layout)
fig.write_html("out.html", config={"displayModeBar": False},
               post_script="document.body.style.margin='0';")
